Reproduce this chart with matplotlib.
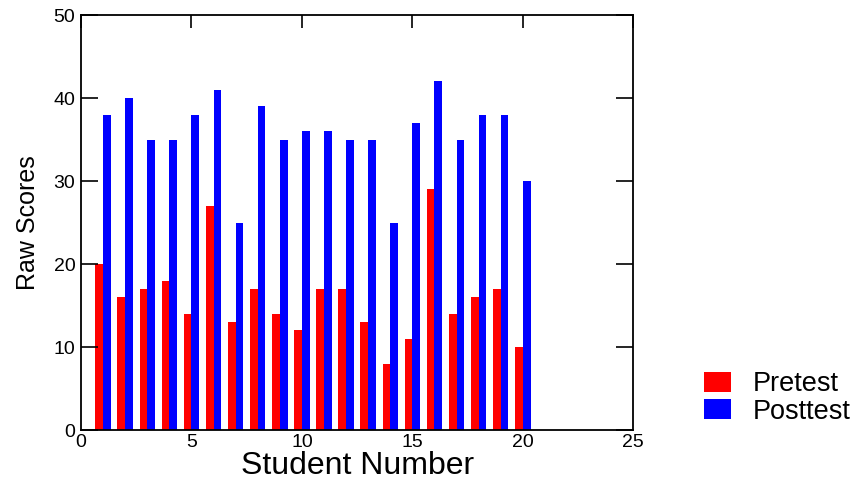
import numpy as np
import matplotlib.pyplot as plt

plt.rcParams['font.family'] = ['Liberation Sans', 'DejaVu Sans']

students = np.arange(1, 21)
pretest = [20, 16, 17, 18, 14, 27, 13, 17, 14, 12, 17, 17, 13, 8, 11, 29, 14, 16, 17, 10]
posttest = [38, 40, 35, 35, 38, 41, 25, 39, 35, 36, 36, 35, 35, 25, 37, 42, 35, 38, 38, 30]

fig = plt.figure(figsize=(8.67, 4.86), dpi=100)
ax = fig.add_axes([0.0934, 0.115, 0.637, 0.854])

w = 0.35
ax.bar(students - w / 2, pretest, width=w, color='#ff0000', label='Pretest')
ax.bar(students + w / 2, posttest, width=w, color='#0000ff', label='Posttest')

ax.set_xlim(0, 25)
ax.set_ylim(0, 50)
ax.set_xticks([0, 5, 10, 15, 20, 25])
ax.set_yticks([0, 10, 20, 30, 40, 50])
ax.tick_params(axis='x', direction='in', top=True, bottom=False, length=9, width=1.2,
               labelsize=14, pad=3)
ax.tick_params(axis='y', direction='in', left=True, right=True, length=12, width=1.2,
               labelsize=14, pad=4)
for s in ax.spines.values():
    s.set_linewidth(1.3)

ax.set_xlabel('Student Number', fontsize=23, labelpad=0)
ax.set_ylabel('Raw Scores', fontsize=18, labelpad=10)

fig.legend(loc='upper left', bbox_to_anchor=(0.796, 0.264), frameon=False,
           fontsize=19.5, handlelength=1.0, handleheight=0.75, handletextpad=0.8,
           labelspacing=0.05, borderpad=0)

fig.savefig('out.png')
